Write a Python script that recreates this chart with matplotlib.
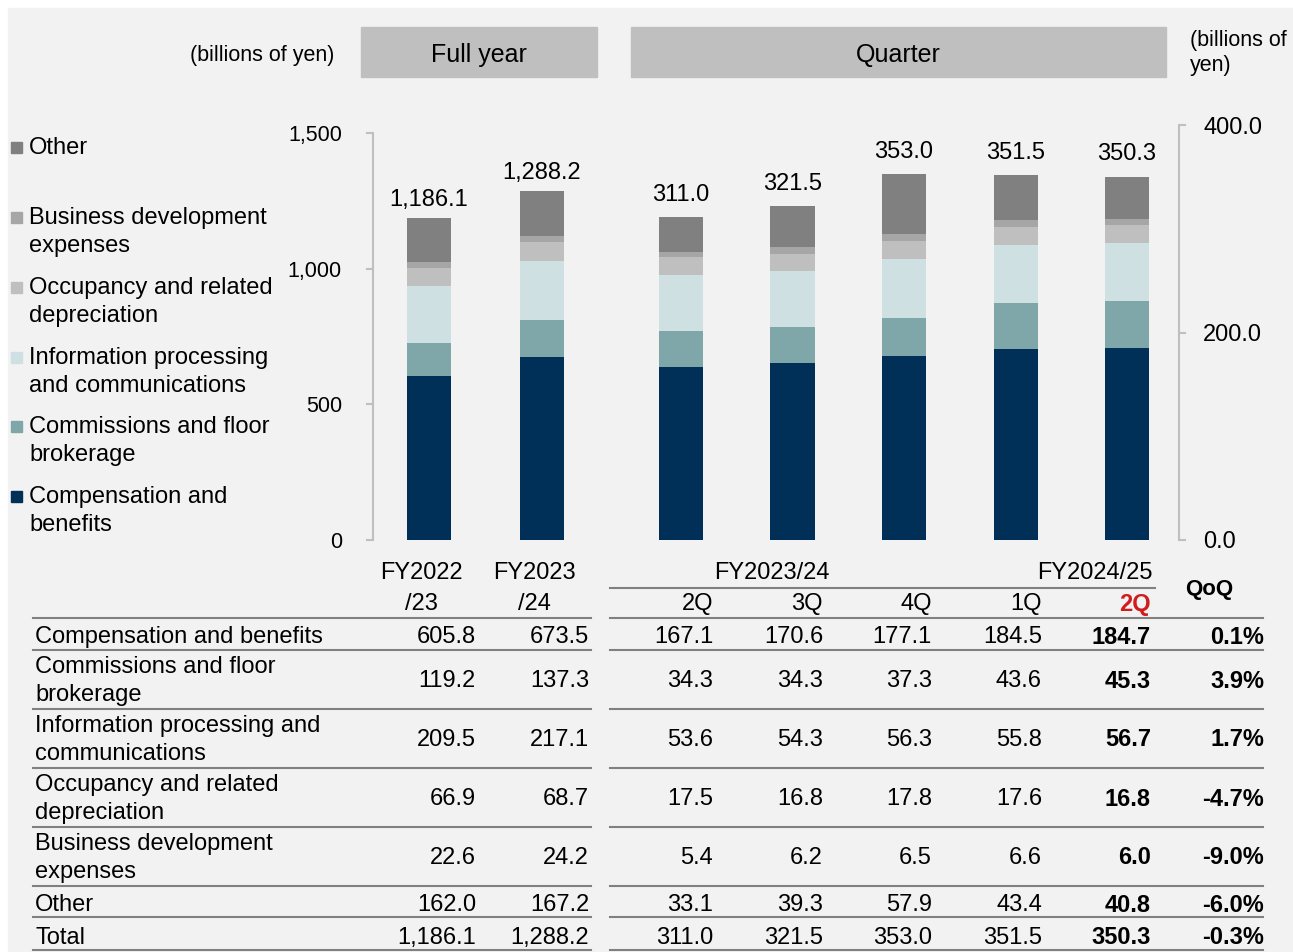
import numpy as np
import matplotlib.pyplot as plt
from matplotlib.patches import Rectangle

plt.rcParams['font.family'] = ['Liberation Sans', 'DejaVu Sans']

# Data (billions of yen)
years = ["FY2022/23", "FY2023/24"]
quarters = ["2Q", "3Q", "4Q", "1Q", "2Q"]
series = ["Compensation and benefits", "Commissions and floor brokerage",
          "Information processing and communications",
          "Occupancy and related depreciation", "Business development expenses", "Other"]
colors = ["#003057", "#7fa7aa", "#cfe0e3", "#bfbfbf", "#a6a6a6", "#808080"]

full_year = {
    "comp": [605.8, 673.5],
    "comm": [119.2, 137.3],
    "info": [209.5, 217.1],
    "occ": [66.9, 68.7],
    "bus": [22.6, 24.2],
    "other": [162.0, 167.2],
}
quarter = {
    "comp": [167.1, 170.6, 177.1, 184.5, 184.7],
    "comm": [34.3, 34.3, 37.3, 43.6, 45.3],
    "info": [53.6, 54.3, 56.3, 55.8, 56.7],
    "occ": [17.5, 16.8, 17.8, 17.6, 16.8],
    "bus": [5.4, 6.2, 6.5, 6.6, 6.0],
    "other": [33.1, 39.3, 57.9, 43.4, 40.8],
}
full_totals = [1186.1, 1288.2]
quarter_totals = [311.0, 321.5, 353.0, 351.5, 350.3]
qoq = ["0.1%", "3.9%", "1.7%", "-4.7%", "-9.0%", "-6.0%", "-0.3%"]

legend_labels = ["Compensation and\nbenefits", "Commissions and floor\nbrokerage",
                 "Information processing\nand communications", "Occupancy and related\ndepreciation",
                 "Business development\nexpenses", "Other"]
table_labels = ["Compensation and benefits", "Commissions and floor\nbrokerage",
                "Information processing and\ncommunications", "Occupancy and related\ndepreciation",
                "Business development\nexpenses", "Other", "Total"]

W, H = 1293, 952
fig = plt.figure(figsize=(W / 100, H / 100), dpi=100)
fig.patch.set_facecolor("white")

# overlay in pixel coordinates for headers, legend and table
ov = fig.add_axes([0, 0, 1, 1], zorder=0)
ov.set_xlim(0, W)
ov.set_ylim(H, 0)
ov.axis("off")
ov.add_patch(Rectangle((8, 8), W - 8, H - 8, color="#f2f2f2", zorder=0))

FS = 17
LS = 1.33
GRID = "#bfbfbf"

# header boxes
ov.add_patch(Rectangle((361, 27), 236, 50, color="#bfbfbf"))
ov.add_patch(Rectangle((631, 27), 535, 50, color="#bfbfbf"))
ov.text(479, 55, "Full year", ha="center", va="center", fontsize=18)
ov.text(898, 55, "Quarter", ha="center", va="center", fontsize=18)
ov.text(334, 56, "(billions of yen)", ha="right", va="center", fontsize=15.5)
ov.text(1190, 53, "(billions of\nyen)", ha="left", va="center", fontsize=15.5, linespacing=1.3)


def stack(ax, data, xs, width):
    bottom = np.zeros(len(xs))
    cont = None
    for key, c in zip(["comp", "comm", "info", "occ", "bus", "other"], colors):
        vals = np.array(data[key])
        cont = ax.bar(xs, vals, width, bottom=bottom, color=c, linewidth=0)
        bottom += vals
    return cont


# full year bars
ax1 = fig.add_axes([372.5 / W, (H - 540) / H, 226 / W, 407 / H], zorder=1)
ax1.set_facecolor("none")
top1 = stack(ax1, full_year, np.arange(2), 0.39)
ax1.bar_label(top1, labels=[f"{v:,.1f}" for v in full_totals], padding=5, fontsize=FS)
ax1.set_xlim(-0.5, 1.5)
ax1.set_ylim(0, 1500)
ax1.set_yticks([0, 500, 1000, 1500])
ax1.set_yticklabels(["0", "500", "1,000", "1,500"])
ax1.set_xticks([])
for s in ["top", "right", "bottom"]:
    ax1.spines[s].set_visible(False)
ax1.spines["left"].set_color(GRID)
ax1.spines["left"].set_linewidth(1.5)
ax1.tick_params(axis="y", length=5, width=1.5, color=GRID, pad=17, labelsize=15.5)

# quarter bars
ax2 = fig.add_axes([625.25 / W, (H - 540) / H, 554.2 / W, 415 / H], zorder=1)
ax2.set_facecolor("none")
top2 = stack(ax2, quarter, np.arange(5), 0.395)
ax2.bar_label(top2, labels=[f"{v:,.1f}" for v in quarter_totals], padding=8, fontsize=FS)
ax2.set_xlim(-0.5, 4.47)
ax2.set_ylim(0, 400)
ax2.set_yticks([0, 200, 400])
ax2.set_yticklabels([f"{v:.1f}" for v in [0, 200, 400]])
ax2.set_xticks([])
ax2.yaxis.tick_right()
for s in ["top", "left", "bottom"]:
    ax2.spines[s].set_visible(False)
ax2.spines["right"].set_color(GRID)
ax2.spines["right"].set_linewidth(1.5)
ax2.tick_params(axis="y", length=5, width=1.5, color=GRID, pad=12, labelsize=FS)

# legend (top entry = Other)
leg_y = [511, 441, 372, 302, 232, 148]
for lab, c, y in zip(legend_labels, colors, leg_y):
    two = "\n" in lab
    ov.add_patch(Rectangle((11, y - (14 if two else 0) - 6), 11, 11, color=c))
    ov.text(29, y, lab, ha="left", va="center", fontsize=FS, linespacing=LS)

# table
LINE = "#808080"
ov.text(421, 573, "FY2022", ha="center", va="center", fontsize=FS)
ov.text(421, 604, "/23", ha="center", va="center", fontsize=FS)
ov.text(534, 573, "FY2023", ha="center", va="center", fontsize=FS)
ov.text(534, 604, "/24", ha="center", va="center", fontsize=FS)
ov.text(772, 573, "FY2023/24", ha="center", va="center", fontsize=FS)
ov.text(1153, 573, "FY2024/25", ha="right", va="center", fontsize=FS)
ov.plot([610, 1155], [588, 588], color=LINE, lw=1.5)
ov.text(1209, 589, "QoQ", ha="center", va="center", fontsize=16, fontweight="bold")

col_x = [476, 589, 713, 823, 932, 1042, 1151]
for i, (q, x) in enumerate(zip(quarters, col_x[2:])):
    last = i == len(quarters) - 1
    ov.text(x, 604, q, ha="right", va="center", fontsize=FS,
            color="#d01c1c" if last else "black", fontweight="bold" if last else "normal")
qoq_x = 1264

row_y = [637, 681, 740, 799, 858, 905, 938]
line_y = [618, 650, 709, 768, 827, 886, 917, 950]
keys = ["comp", "comm", "info", "occ", "bus", "other"]
rows = [full_year[k] + quarter[k] for k in keys] + [full_totals + quarter_totals]
for lab, vals, pct, y in zip(table_labels, rows, qoq, row_y):
    ov.text(35, y, lab, ha="left", va="center", fontsize=FS, linespacing=LS)
    for j, (v, x) in enumerate(zip(vals, col_x)):
        ov.text(x, y, f"{v:,.1f}", ha="right", va="center", fontsize=FS,
                fontweight="bold" if j == len(vals) - 1 else "normal")
    ov.text(qoq_x, y, pct, ha="right", va="center", fontsize=FS, fontweight="bold")

for y in line_y:
    ov.plot([33, 591], [y, y], color=LINE, lw=1.5)
    ov.plot([610, 1263], [y, y], color=LINE, lw=1.5)

fig.savefig("out.png", dpi=100, facecolor=fig.get_facecolor())
